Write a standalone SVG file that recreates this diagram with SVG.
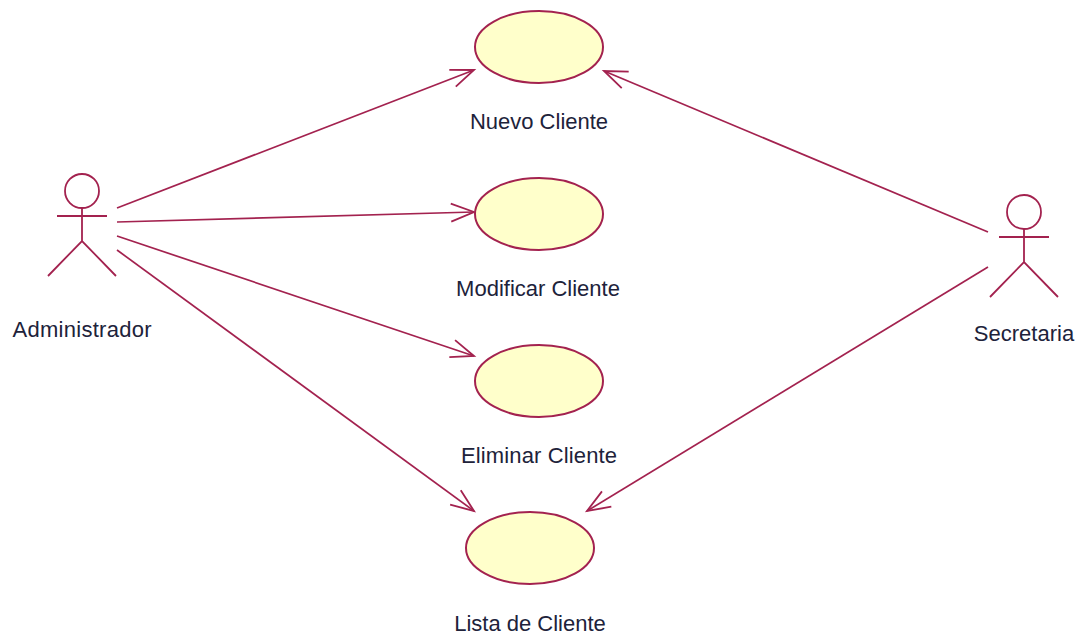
<svg xmlns="http://www.w3.org/2000/svg" width="1083" height="639" viewBox="0 0 1083 639">
<style>
.uc{fill:#ffffcb;stroke:#a3224f;stroke-width:2}
.a{fill:none;stroke:#a3224f;stroke-width:1.8}
.c{fill:none;stroke:#a3224f;stroke-width:1.7}
text{font-family:"Liberation Sans",Arial,sans-serif;font-size:22px;fill:#20223a;text-anchor:middle}
</style>
<defs><marker id="ah" markerUnits="userSpaceOnUse" markerWidth="30" markerHeight="24" refX="24" refY="12" orient="auto"><path d="M1 3L24 12L1 21" fill="none" stroke="#a3224f" stroke-width="1.8"/></marker></defs>
<rect width="1083" height="639" fill="#fff"/>
<g id="connectors">
<line class="c" x1="117" y1="208" x2="474" y2="70" marker-end="url(#ah)"/>
<line class="c" x1="117" y1="222" x2="474" y2="212" marker-end="url(#ah)"/>
<line class="c" x1="117" y1="236" x2="474" y2="356" marker-end="url(#ah)"/>
<line class="c" x1="117" y1="250" x2="474" y2="511" marker-end="url(#ah)"/>
<line class="c" x1="988" y1="232" x2="604" y2="71" marker-end="url(#ah)"/>
<line class="c" x1="988" y1="267" x2="587" y2="511" marker-end="url(#ah)"/>
</g>
<g id="uc1"><ellipse class="uc" cx="539" cy="47" rx="64" ry="36"/><text x="539" y="129">Nuevo Cliente</text></g>
<g id="uc2"><ellipse class="uc" cx="539" cy="214" rx="64" ry="36"/><text x="538" y="296">Modificar Cliente</text></g>
<g id="uc3"><ellipse class="uc" cx="539" cy="381" rx="64" ry="36"/><text x="539" y="463" textLength="156">Eliminar Cliente</text></g>
<g id="uc4"><ellipse class="uc" cx="530" cy="548" rx="64" ry="36"/><text x="530" y="631">Lista de Cliente</text></g>
<g id="admin"><circle class="a" cx="82" cy="191" r="17"/><path class="a" d="M82 208V241M57 216H107M48 276L82 241L116 276"/><text x="82" y="337" textLength="139">Administrador</text></g>
<g id="secretaria"><circle class="a" cx="1024" cy="212" r="17"/><path class="a" d="M1024 229V262M999 237H1049M990 297L1024 262L1058 297"/><text x="1024" y="341">Secretaria</text></g>
</svg>
